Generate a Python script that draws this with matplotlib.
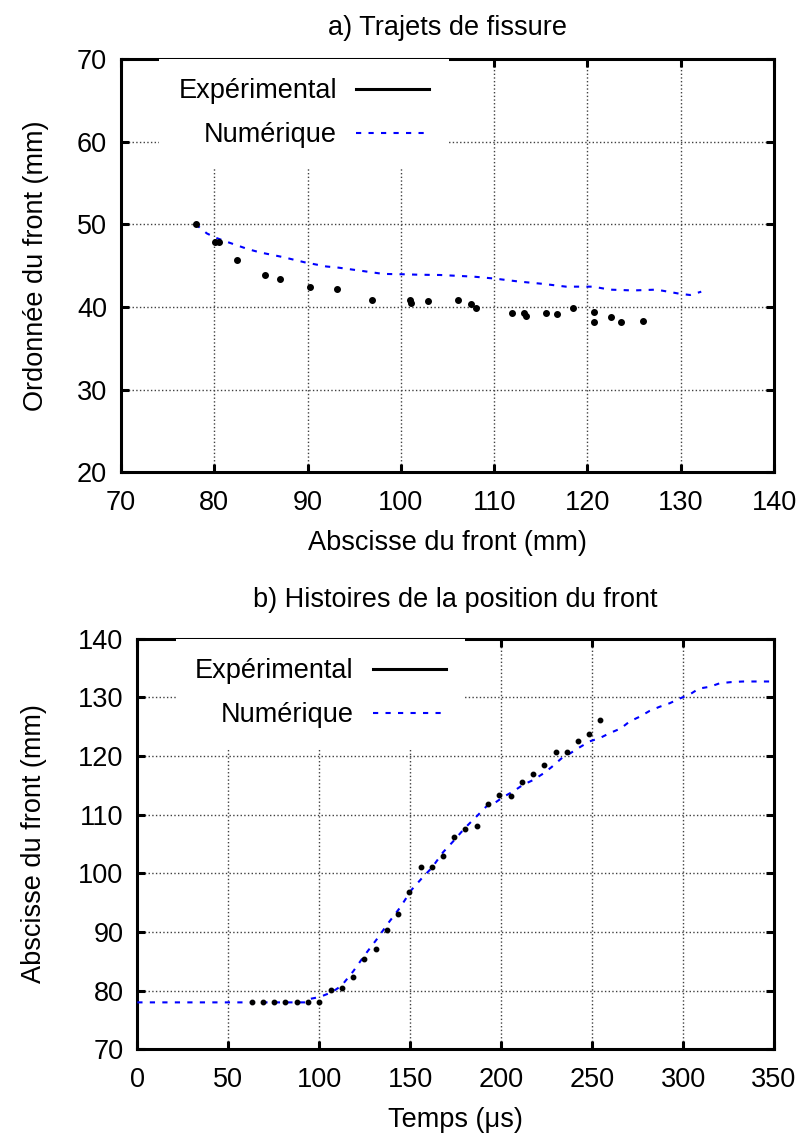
import matplotlib
matplotlib.use('agg')
import matplotlib.pyplot as plt
from matplotlib.lines import Line2D

plt.rcParams['font.family'] = ['Liberation Sans', 'DejaVu Sans']

# a) crack path: experimental points and numerical curve
x_exp = [78.0, 80.07, 80.5, 82.47, 85.47, 87.07, 90.22, 93.15, 96.9, 101.0, 101.1, 102.9, 106.08,
         107.47, 108.1, 111.9, 113.2, 113.4, 115.55, 116.75, 118.5, 120.7, 120.75, 122.5, 123.6, 126.0]
y_exp = [50.0, 47.8, 47.8, 45.65, 43.87, 43.4, 42.4, 42.14, 40.85, 40.85, 40.5, 40.77, 40.8,
         40.36, 39.85, 39.3, 39.3, 38.9, 39.3, 39.2, 39.85, 39.4, 38.2, 38.8, 38.2, 38.3]
x_num = [78.0, 79.2, 80.1, 81.3, 83.6, 84.9, 87.3, 89.7, 92.0, 93.3, 95.6, 98.1, 100.5, 102.0,
         104.2, 107.8, 110.1, 112.7, 115.2, 117.7, 120.6, 122.4, 124.9, 127.4, 129.9, 131.0, 132.2]
y_num = [50.0, 48.9, 48.4, 47.9, 47.0, 46.6, 46.05, 45.4, 44.9, 44.76, 44.4, 44.0, 43.95, 43.9,
         43.87, 43.67, 43.43, 43.07, 42.8, 42.46, 42.46, 42.1, 42.0, 42.1, 41.6, 41.45, 41.85]

# b) front position history
t_exp = [63.2, 69.0, 75.1, 81.3, 87.6, 93.9, 100.1, 106.3, 112.5, 118.6, 124.7, 131.0, 137.0, 143.1,
         149.3, 155.7, 161.9, 168.0, 174.2, 180.4, 186.6, 192.7, 198.9, 205.2, 211.4, 217.4, 223.6,
         229.9, 236.1, 242.1, 248.4, 254.6]
front_exp = [78.0, 78.0, 78.0, 78.0, 78.0, 78.0, 78.0, 80.05, 80.5, 82.4, 85.45, 87.1, 90.3, 93.1,
             96.9, 101.1, 101.0, 102.9, 106.2, 107.5, 108.1, 111.9, 113.4, 113.2, 115.6, 116.85, 118.5,
             120.7, 120.7, 122.5, 123.7, 126.05]
t_num = [0.0, 93.0, 95.0, 100.0, 106.8, 112.3, 118.7, 125.1, 131.5, 137.9, 144.3, 150.8, 157.1, 161.8,
         168.1, 173.5, 180.0, 186.5, 191.9, 196.5, 201.1, 206.6, 212.1, 217.6, 223.1, 227.7, 233.2,
         238.2, 243.0, 248.7, 254.2, 259.7, 265.8, 270.7, 276.2, 281.7, 287.2, 292.7, 298.2, 303.7,
         308.8, 314.7, 320.2, 326.6, 333.0, 339.4, 350.0]
front_num = [78.0, 78.0, 78.6, 78.9, 79.7, 80.85, 83.3, 86.1, 88.7, 91.5, 94.1, 97.2, 99.4, 100.9,
             103.6, 105.4, 107.7, 109.7, 111.4, 112.0, 113.0, 113.95, 115.1, 115.9, 117.0, 118.1, 119.6,
             120.5, 121.45, 122.5, 123.05, 123.9, 124.7, 125.9, 126.7, 127.7, 128.4, 129.0, 129.8, 130.5,
             131.5, 131.8, 132.4, 132.6, 132.7, 132.7, 132.7]

FS = 19.5
DASH = (0, (2.5, 3.5))


def style_axes(ax):
    for s in ax.spines.values():
        s.set_linewidth(2.2)
    ax.tick_params(direction='in', length=6, width=2.2, top=True, right=True,
                   labelsize=FS, pad=13)
    ax.tick_params(axis='y', pad=10)
    ax.grid(True, linestyle=':', color='0.25', linewidth=1.0)
    ax.set_axisbelow(True)


def add_key(ax, anchor):
    handles = [Line2D([], [], color='black', lw=2.2),
               Line2D([], [], color='#0000ff', lw=1.5, linestyle=DASH)]
    leg = ax.legend(handles, ['Expérimental', 'Numérique'], loc='upper left',
                    bbox_to_anchor=anchor, markerfirst=False, fontsize=FS,
                    handlelength=2.7, handletextpad=0.7, labelspacing=0.66,
                    borderpad=0.72, borderaxespad=0, fancybox=False,
                    framealpha=1, facecolor='white', edgecolor='none')
    return leg


fig = plt.figure(figsize=(8.03, 11.35), dpi=100)

ax1 = fig.add_axes([0.1507, 0.5838, 0.8132, 0.3643])
ax1.plot(x_num, y_num, color='#0000ff', lw=1.5, linestyle=DASH, zorder=3)
ax1.plot(x_exp, y_exp, 'o', color='black', markersize=4, zorder=4)
ax1.set_xlim(70, 140)
ax1.set_ylim(20, 70)
ax1.set_xticks(range(70, 141, 10))
ax1.set_yticks(range(20, 71, 10))
style_axes(ax1)
ax1.set_xlabel('Abscisse du front (mm)', fontsize=FS, labelpad=10)
ax1.set_ylabel('Ordonnée du front (mm)', fontsize=FS, labelpad=20)
ax1.set_title('a) Trajets de fissure', fontsize=FS, pad=17.5)
add_key(ax1, (0.058, 1.0))

ax2 = fig.add_axes([0.171, 0.0755, 0.7929, 0.3618])
ax2.plot(t_num, front_num, color='#0000ff', lw=1.5, linestyle=DASH, zorder=3)
ax2.plot(t_exp, front_exp, 'o', color='black', markersize=3.2, zorder=4)
ax2.set_xlim(0, 350)
ax2.set_ylim(70, 140)
ax2.set_xticks(range(0, 351, 50))
ax2.set_yticks(range(70, 141, 10))
style_axes(ax2)
ax2.set_xlabel('Temps (μs)', fontsize=FS, labelpad=10)
ax2.set_ylabel('Abscisse du front (mm)', fontsize=FS, labelpad=22)
ax2.set_title('b) Histoires de la position du front', fontsize=FS, pad=22.5)
add_key(ax2, (0.06, 1.0))

fig.savefig('out.png', dpi=100)
